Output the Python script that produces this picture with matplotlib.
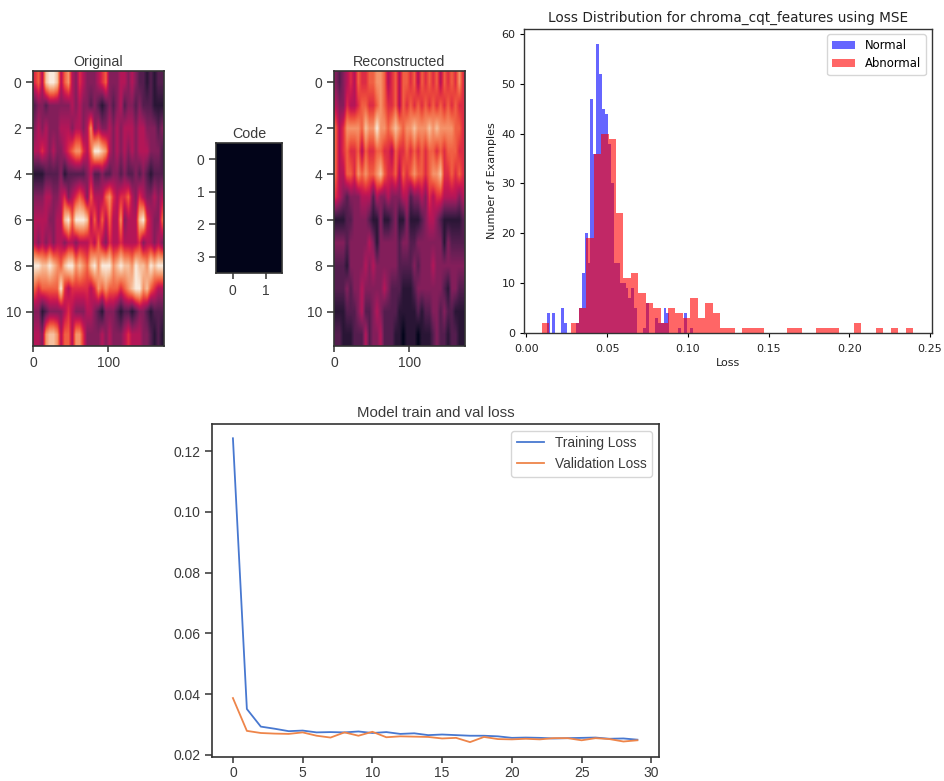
import numpy as np
import matplotlib
matplotlib.use("Agg")
import matplotlib.pyplot as plt
import seaborn as sns

# heatmap rows, one digit per 5 frames, 0 = dark, 9 = bright
original_rows = [
    "56489" "98467" "43543" "33456" "33344" "34322" "12122",
    "23323" "33333" "43433" "23212" "32342" "33232" "22111",
    "34343" "33444" "34434" "73433" "43434" "44344" "33323",
    "44543" "43345" "67754" "69987" "43434" "34344" "43332",
    "11122" "22312" "22223" "42232" "23323" "22323" "21222",
    "33344" "33453" "45653" "64446" "75455" "64354" "33434",
    "44443" "34489" "69998" "46464" "64473" "44489" "54336",
    "43434" "34434" "43444" "54643" "54454" "44453" "44343",
    "99889" "87689" "97876" "89799" "97898" "87988" "79899",
    "65666" "66954" "55555" "45767" "66656" "78997" "86544",
    "33123" "33345" "43334" "43213" "33212" "21233" "21222",
    "44378" "87466" "47753" "33343" "43334" "54443" "32121",
]
reconstructed_rows = [
    "32345" "46556" "67764" "56466" "56465" "65646" "56575",
    "43354" "45665" "56765" "56465" "65656" "56565" "65655",
    "64577" "77687" "79776" "78767" "78777" "87877" "77665",
    "64565" "56465" "56655" "46556" "56565" "66565" "66655",
    "64466" "57676" "67865" "56465" "67665" "67785" "56565",
    "54323" "33444" "24334" "33344" "23343" "54554" "44434",
    "11122" "33332" "11311" "23113" "11123" "44321" "11112",
    "33323" "33334" "31333" "33233" "22333" "33331" "32222",
    "22213" "33343" "43333" "33222" "23233" "34333" "33333",
    "22232" "33433" "33343" "22211" "12333" "33332" "13322",
    "11122" "23422" "34322" "22111" "11212" "23323" "22111",
    "22111" "22242" "33422" "21101" "11011" "12322" "12211",
]
code_values = [[0, 0], [0, 0], [0, 0], [0, 0]]

normal_range = (0.0125, 0.1031)
normal_counts = [4, 0, 4, 0, 0, 5, 2, 0, 0, 0, 2, 5, 12, 20, 14, 47, 36, 58, 52, 45,
                 44, 38, 30, 14, 14, 10, 10, 9, 7, 9, 5, 0, 0, 1, 6, 0, 0, 3, 2, 2,
                 5, 4, 0, 0, 0, 1, 0, 4, 0, 1]
abnormal_range = (0.0095, 0.2395)
abnormal_counts = [2, 0, 0, 0, 2, 5, 19, 36, 40, 39, 24, 11, 12, 8, 6, 5, 2, 5, 4, 3,
                   7, 3, 6, 4, 1, 1, 0, 1, 1, 1, 0, 0, 0, 1, 1, 0, 0, 1, 1, 1,
                   0, 0, 2, 0, 0, 1, 0, 1, 0, 1]

train_loss = [0.1242, 0.0351, 0.0293, 0.0286, 0.0278, 0.0280, 0.0274, 0.0275, 0.0274, 0.0277,
              0.0272, 0.0275, 0.0269, 0.0271, 0.0265, 0.0267, 0.0265, 0.0263, 0.0263, 0.0261,
              0.0256, 0.0257, 0.0256, 0.0254, 0.0255, 0.0256, 0.0257, 0.0253, 0.0254, 0.0250]
val_loss = [0.0387, 0.0279, 0.0272, 0.0270, 0.0269, 0.0274, 0.0263, 0.0257, 0.0274, 0.0263,
            0.0276, 0.0258, 0.0261, 0.0260, 0.0259, 0.0254, 0.0256, 0.0242, 0.0259, 0.0252,
            0.0251, 0.0253, 0.0251, 0.0255, 0.0255, 0.0248, 0.0255, 0.0252, 0.0244, 0.0248]

W, H = 944, 781
fig = plt.figure(figsize=(W / 100, H / 100), dpi=100)
rocket = sns.color_palette("rocket", as_cmap=True)
arial = ["Liberation Sans", "DejaVu Sans"]
dark = "#3a3a3a"


def px_axes(left, top, right, bottom):
    return fig.add_axes([left / W, 1 - bottom / H, (right - left) / W, (bottom - top) / H])


def style(ax, xpad=3):
    for s in ax.spines.values():
        s.set_color("#333333")
        s.set_linewidth(1.2)
    ax.tick_params(length=5, width=1.1, color="#333333", labelcolor=dark, labelsize=10)
    ax.tick_params(axis="x", length=4.2, pad=xpad)
    for t in ax.get_xticklabels() + ax.get_yticklabels():
        t.set_family(arial)


def heat(ax, rows, title):
    data = np.array([[int(c) for c in r] for r in rows]) / 9
    ax.imshow(data, cmap=rocket, vmin=0, vmax=1, aspect="auto", interpolation="bilinear",
              extent=(-0.5, 174.5, 11.5, -0.5))
    ax.set_xticks([0, 100])
    ax.set_yticks([0, 2, 4, 6, 8, 10])
    ax.set_title(title, fontsize=10.3, family=arial, color=dark, pad=3.5)
    style(ax)


heat(px_axes(33, 71, 164, 346), original_rows, "Original")
heat(px_axes(334, 71, 465, 346), reconstructed_rows, "Reconstructed")

ax = px_axes(216, 143, 282, 273)
ax.imshow(code_values, cmap=rocket, vmin=0, vmax=1, aspect="auto", interpolation="nearest")
ax.set_xticks([0, 1])
ax.set_yticks([0, 1, 2, 3])
ax.set_title("Code", fontsize=10.3, family=arial, color=dark, pad=3.5)
style(ax, xpad=4)

# histogram
ax = px_axes(524, 29, 932, 333)
normal_edges = np.linspace(normal_range[0], normal_range[1], len(normal_counts) + 1)
abnormal_edges = np.linspace(abnormal_range[0], abnormal_range[1], len(abnormal_counts) + 1)
ax.hist(normal_edges[:-1], bins=normal_edges, weights=normal_counts, color="blue", alpha=0.6, label="Normal")
ax.hist(abnormal_edges[:-1], bins=abnormal_edges, weights=abnormal_counts, color="red", alpha=0.6, label="Abnormal")
ax.set_xlim(-0.0015, 0.2513)
ax.set_ylim(0, 61)
ax.set_title("Loss Distribution for chroma_cqt_features using MSE", fontsize=9.85, pad=5, color="#222222")
ax.set_xlabel("Loss", fontsize=8, labelpad=3, color="#222222")
ax.set_ylabel("Number of Examples", fontsize=8, labelpad=3, color="#222222")
ax.tick_params(labelsize=8, length=3, width=0.8, labelcolor="#222222", pad=3)
ax.tick_params(axis="x", pad=5)
for s in ax.spines.values():
    s.set_color("#333333")
    s.set_linewidth(1)
ax.legend(loc="upper right", fontsize=8.4, bbox_to_anchor=(0.99, 0.99), borderaxespad=0.2, labelspacing=0.45)

# loss curves
ax = px_axes(212, 424, 659, 757)
epochs = np.arange(len(train_loss))
ax.plot(epochs, train_loss, color="#4878d0", lw=1.3, label="Training Loss")
ax.plot(epochs, val_loss, color="#ee854a", lw=1.3, label="Validation Loss")
ax.set_xlim(-1.5, 30.55)
ax.set_ylim(0.0193, 0.1289)
ax.set_xticks(range(0, 31, 5))
ax.set_yticks([0.02, 0.04, 0.06, 0.08, 0.10, 0.12])
ax.set_title("Model train and val loss", fontsize=10.8, family=arial, color=dark, pad=5)
style(ax, xpad=2.2)
ax.legend(loc="upper right", prop={"family": arial, "size": 9.8}, labelcolor=dark, borderaxespad=0.5)

fig.savefig("out.png", dpi=100)
